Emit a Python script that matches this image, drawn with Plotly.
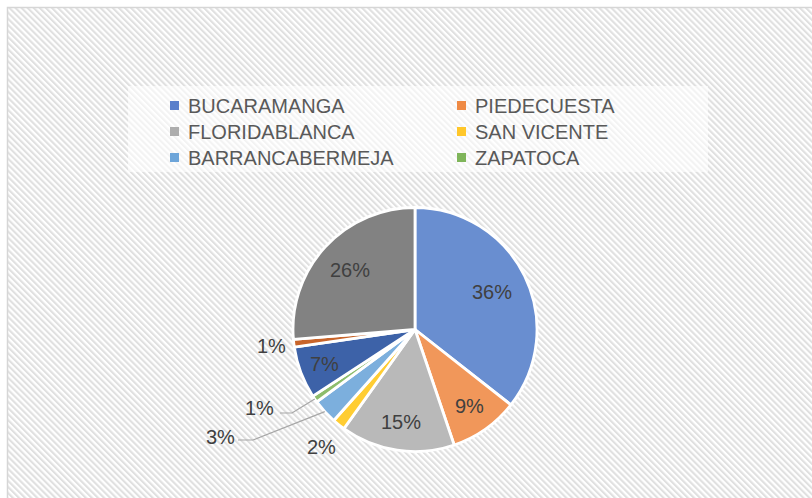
import base64
import math
import plotly.graph_objects as go

# ---------------- data ----------------
labels = ["BUCARAMANGA", "PIEDECUESTA", "FLORIDABLANCA", "SAN VICENTE",
          "BARRANCABERMEJA", "ZAPATOCA", "MUNICIPIO 7", "MUNICIPIO 8", "MUNICIPIO 9"]
values = [35.6, 9.2, 15.1, 1.7, 3.3, 0.9, 6.9, 1.0, 26.3]
legend_labels = ["BUCARAMANGA", "PIEDECUESTA", "FLORIDABLANCA",
                 "SAN VICENTE", "BARRANCABERMEJA", "ZAPATOCA"]

# ---------------- style ----------------
slice_colors = ["#698ED0", "#F1975A", "#B9B9B9", "#FFCD33", "#7CAFDD",
                "#8DBD6C", "#3D62A8", "#C8642A", "#828282"]
legend_colors = ["#5A7FCB", "#EF8A45", "#ADADAD", "#FFC72A", "#6DA5D9", "#7FB55A"]
# radial position of each label as a fraction of the radius (None = leader-line label)
label_k = [0.70, 0.77, 0.77, 1.23, None, None, 0.79, 1.18, 0.72]
leader_label_px = {4: (220, 437), 5: (259, 408)}   # label centres (px) for leader-line labels
leader_elbow_px = {4: (238, 253, 440), 5: (280, 292, 413)}  # x_start, x_elbow, y

W, H = 812, 498
CX, CY, R = 415, 329.5, 122
FONT = "Liberation Sans, Arial, sans-serif"


def px(x):
    return x / W


def py(y):
    return 1 - y / H


svg = f'''<svg xmlns="http://www.w3.org/2000/svg" width="{W}" height="{H}" viewBox="0 0 {W} {H}">
<defs><pattern id="h" width="4.3" height="4.3" patternUnits="userSpaceOnUse" patternTransform="rotate(-45)">
<rect x="0" y="0" width="2.1" height="4.3" fill="#e0e0e0"/></pattern></defs>
<rect x="0" y="0" width="{W}" height="{H}" fill="#ffffff"/>
<rect x="7.5" y="7.5" width="{W + 20}" height="{H + 20}" fill="url(#h)" stroke="#d6d6d6" stroke-width="1.5"/>
<rect x="128" y="86" width="580" height="86" fill="#ffffff" fill-opacity="0.6"/>
</svg>'''
bg_src = "data:image/svg+xml;base64," + base64.b64encode(svg.encode()).decode()

fig = go.Figure()
fig.add_trace(go.Pie(
    labels=labels, values=values, sort=False, direction="clockwise", rotation=0,
    marker=dict(colors=slice_colors, line=dict(color="white", width=2.8)),
    textinfo="none", showlegend=False, hoverinfo="label+percent",
    domain=dict(x=[px(CX - R), px(CX + R)], y=[py(CY + R), py(CY - R)]),
))

annotations = []
shapes = []
total = sum(values)
cum = 0.0
for i, v in enumerate(values):
    mid = (cum + v / 2) / total * 2 * math.pi
    cum += v
    txt = f"{round(v / total * 100):d}%"
    if label_k[i] is not None:
        lx = CX + label_k[i] * R * math.sin(mid)
        ly = CY - label_k[i] * R * math.cos(mid)
    else:
        lx, ly = leader_label_px[i]
        rx = CX + R * math.sin(mid)
        ry = CY - R * math.cos(mid)
        x0, xe, yl = leader_elbow_px[i]
        shapes.append(dict(
            type="path", xref="paper", yref="paper",
            path=f"M {px(x0)} {py(yl)} L {px(xe)} {py(yl)} L {px(rx)} {py(ry)}",
            line=dict(color="#A6A6A6", width=1.2)))
    annotations.append(dict(
        x=px(lx), y=py(ly), xref="paper", yref="paper", text=txt, showarrow=False,
        xanchor="center", yanchor="middle",
        font=dict(family=FONT, size=20, color="#404040")))

# legend (two columns, three rows)
col_text_x = [188, 475]
row_y = [105, 131, 157]
for j, (name, col) in enumerate(zip(legend_labels, legend_colors)):
    c, r = j % 2, j // 2
    tx, ty = col_text_x[c], row_y[r]
    shapes.append(dict(type="rect", xref="paper", yref="paper",
                       x0=px(tx - 18), x1=px(tx - 9), y0=py(ty + 5), y1=py(ty - 4),
                       fillcolor=col, line=dict(width=0)))
    annotations.append(dict(
        x=px(tx - 2), y=py(ty + 1), xref="paper", yref="paper", text=name, showarrow=False,
        xanchor="left", yanchor="middle",
        font=dict(family=FONT, size=20, color="#595959")))

fig.update_layout(
    width=W, height=H,
    margin=dict(l=0, r=0, t=0, b=0),
    paper_bgcolor="white", plot_bgcolor="rgba(0,0,0,0)",
    images=[dict(source=bg_src, xref="paper", yref="paper", x=0, y=1,
                 sizex=1, sizey=1, xanchor="left", yanchor="top",
                 sizing="stretch", layer="below")],
    annotations=annotations, shapes=shapes,
    font=dict(family=FONT),
)

fig.write_html("out.html", config={"displayModeBar": False},
               post_script="document.body.style.margin='0';")
